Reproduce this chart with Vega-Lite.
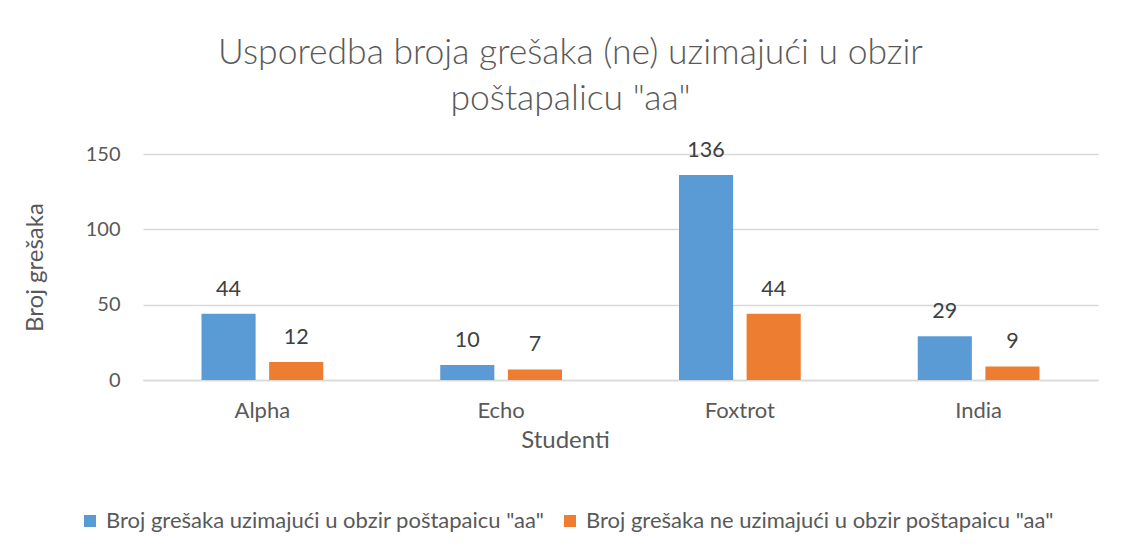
{
  "$schema": "https://vega.github.io/schema/vega-lite/v6.json",
  "width": 955,
  "height": 226,
  "autosize": "none",
  "padding": {"left": 143, "top": 154, "right": 24, "bottom": 173},
  "background": "white",
  "config": {"font": "Lato", "view": {"stroke": null}},
  "title": {
    "text": ["Usporedba broja grešaka (ne) uzimajući u obzir", "poštapalicu \"aa\""],
    "fontSize": 35.5,
    "fontWeight": 300,
    "color": "#595959",
    "anchor": "middle",
    "frame": "group",
    "baseline": "bottom",
    "lineHeight": 46,
    "offset": -12,
    "dx": -50
  },
  "data": {
    "values": [
      {"student": "Alpha", "series": "Broj grešaka uzimajući u obzir poštapaicu \"aa\"", "value": 44},
      {"student": "Alpha", "series": "Broj grešaka ne uzimajući u obzir poštapaicu \"aa\"", "value": 12},
      {"student": "Echo", "series": "Broj grešaka uzimajući u obzir poštapaicu \"aa\"", "value": 10},
      {"student": "Echo", "series": "Broj grešaka ne uzimajući u obzir poštapaicu \"aa\"", "value": 7},
      {"student": "Foxtrot", "series": "Broj grešaka uzimajući u obzir poštapaicu \"aa\"", "value": 136},
      {"student": "Foxtrot", "series": "Broj grešaka ne uzimajući u obzir poštapaicu \"aa\"", "value": 44},
      {"student": "India", "series": "Broj grešaka uzimajući u obzir poštapaicu \"aa\"", "value": 29},
      {"student": "India", "series": "Broj grešaka ne uzimajući u obzir poštapaicu \"aa\"", "value": 9}
    ]
  },
  "encoding": {
    "x": {
      "field": "student",
      "type": "nominal",
      "sort": ["Alpha", "Echo", "Foxtrot", "India"],
      "scale": {"paddingInner": 0.49, "paddingOuter": 0.245},
      "axis": {
        "title": "Studenti",
        "titleFontSize": 24,
        "titleFontWeight": "normal",
        "titleColor": "#595959",
        "titleX": 422,
        "titleY": 60,
        "titleBaseline": "middle",
        "labelAngle": 0,
        "labelFontSize": 22,
        "labelColor": "#595959",
        "labelPadding": 20,
        "ticks": false,
        "domainColor": "#d9d9d9",
        "domainWidth": 1.5
      }
    },
    "xOffset": {
      "field": "series",
      "type": "nominal",
      "sort": ["Broj grešaka uzimajući u obzir poštapaicu \"aa\"", "Broj grešaka ne uzimajući u obzir poštapaicu \"aa\""],
      "scale": {"paddingInner": 0.2, "paddingOuter": 0}
    },
    "y": {
      "field": "value",
      "type": "quantitative",
      "scale": {"domain": [0, 150], "nice": false},
      "axis": {
        "values": [0, 50, 100, 150],
        "title": "Broj grešaka",
        "titleFontSize": 24,
        "titleFontWeight": "normal",
        "titleColor": "#595959",
        "titleX": -108,
        "titleY": 113,
        "titleAngle": -90,
        "titleAlign": "center",
        "titleBaseline": "middle",
        "labelFontSize": 20,
        "labelColor": "#595959",
        "labelPadding": 23,
        "ticks": false,
        "domain": false,
        "gridColor": "#d9d9d9",
        "gridWidth": 1.5
      }
    }
  },
  "layer": [
    {
      "mark": {"type": "bar"},
      "encoding": {
        "color": {
          "field": "series",
          "type": "nominal",
          "sort": ["Broj grešaka uzimajući u obzir poštapaicu \"aa\"", "Broj grešaka ne uzimajući u obzir poštapaicu \"aa\""],
          "scale": {
            "domain": ["Broj grešaka uzimajući u obzir poštapaicu \"aa\"", "Broj grešaka ne uzimajući u obzir poštapaicu \"aa\""],
            "range": ["#5B9BD5", "#ED7D31"]
          },
          "legend": {
            "title": null,
            "orient": "none",
            "direction": "horizontal",
            "legendX": -64,
            "legendY": 356,
            "symbolType": "square",
            "symbolSize": 144,
            "symbolStrokeWidth": 0,
            "labelFontSize": 22,
            "labelColor": "#595959",
            "labelLimit": 0,
            "columnPadding": 14,
            "labelOffset": 5
          }
        }
      }
    },
    {
      "mark": {"type": "text", "fontSize": 21.5, "color": "#404040", "baseline": "middle", "dy": -24},
      "encoding": {
        "text": {"field": "value", "type": "quantitative"}
      }
    }
  ]
}
